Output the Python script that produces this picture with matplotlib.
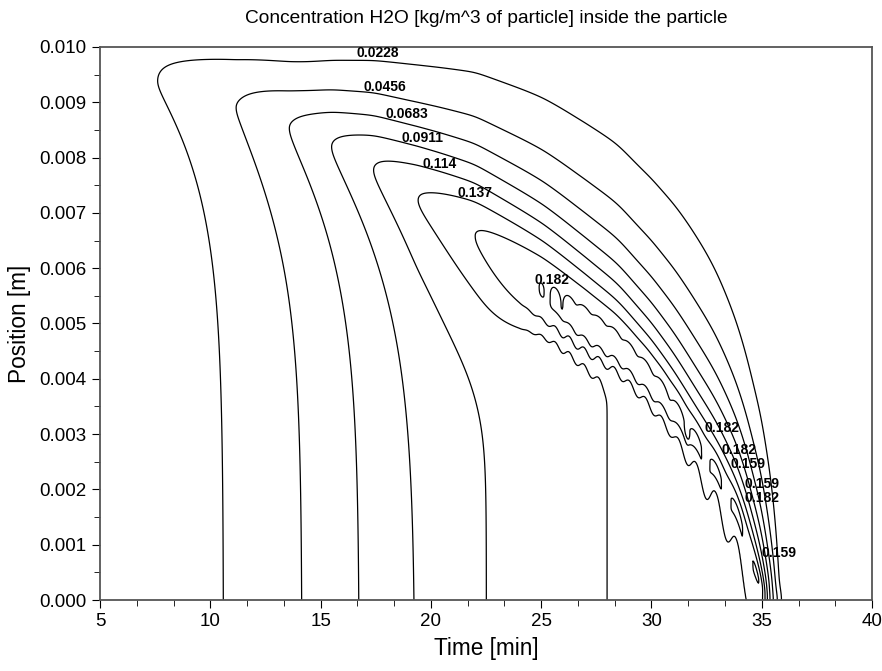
import numpy as np
import matplotlib.pyplot as plt
from matplotlib.ticker import MultipleLocator, FormatStrFormatter

plt.rcParams['font.family'] = ['Liberation Sans', 'DejaVu Sans']

# contour levels of the H2O concentration [kg/m^3]
levels = [0.0228, 0.0456, 0.0683, 0.0911, 0.114, 0.137, 0.159, 0.182]

# concentration in the particle core (r = 0) against time [min]
core_t = [7.0, 10.6, 14.2, 16.76, 19.25, 22.45, 27.97, 34.1]
core_c = [0.0, 0.0228, 0.0456, 0.0683, 0.0911, 0.114, 0.137, 0.159]

# peak of the moisture band behind the drying front: time, position, value
ridge_t = [4.5, 7.6, 11.2, 13.6, 15.5, 17.4, 19.4, 22.0, 25.1, 27.0, 28.5,
           30.0, 31.0, 32.0, 33.0, 33.9, 34.5, 35.0, 35.05, 35.78, 35.95]
ridge_r = [0.0096, 0.0094, 0.0089, 0.00853, 0.0082, 0.00778, 0.00723, 0.0066,
           0.0056, 0.0050, 0.0046, 0.0040, 0.0035, 0.0029, 0.0023, 0.0016,
           0.0009, 0.0, 0.0, 0.0, 0.0]
ridge_c = [0.0, 0.0228, 0.0456, 0.0683, 0.0911, 0.114, 0.137, 0.159, 0.182,
           0.190, 0.190, 0.190, 0.187, 0.184, 0.183, 0.183, 0.183, 0.180,
           0.159, 0.0228, 0.0]

# band shape: outer flank (towards the surface) and inner flank (towards core)
outer_t = [5.0, 14.0, 20.0, 25.0, 27.65, 30.0, 32.2, 33.7, 34.55, 36.0]
outer_a = [0.0008, 0.0008, 0.0012, 0.0009, 0.0005, 0.0002, 0.0001, 0.0001,
           0.0001, 0.0001]
outer_w = [0.0006, 0.0006, 0.0009, 0.0013, 0.0015, 0.0016, 0.00176, 0.00163,
           0.00148, 0.00143]
inner_t = [5.0, 20.0, 22.5, 25.0, 28.0, 36.0]
inner_w = [0.0016, 0.0015, 0.0012, 0.0005, 0.00035, 0.0003]
inner_q = [1.0, 1.0, 1.3, 2.0, 2.0, 2.0]
inner_a = 0.0002

radius = 0.010        # particle radius [m]
skin = 0.00008        # surface layer thickness [m]

# numerical oscillation of the band: period [min], peak swing, inner-flank shift [m]
ripple_t = [24.0, 26.0, 31.0, 33.0, 36.0]
ripple_period = [0.65, 0.65, 0.75, 0.95, 1.0]
ripple_peak = [0.0, 0.004, 0.005, 0.008, 0.008]
ripple_shift = [0.0, 0.00006, 0.00008, 0.00025, 0.00025]
ripple_crest = 33.87  # time of one island crest
ripple_width = 0.00025

# label centres for each level
label_pos = {
    0.0228: [(17.6, 0.0099)],
    0.0456: [(17.9, 0.00928)],
    0.0683: [(18.9, 0.00879)],
    0.0911: [(19.6, 0.00835)],
    0.114: [(20.4, 0.00788)],
    0.137: [(22.0, 0.00736)],
    0.159: [(34.37, 0.00246), (35.0, 0.00209), (35.8, 0.00085)],
    0.182: [(25.5, 0.00579), (33.2, 0.00311), (33.95, 0.00272), (35.0, 0.00185)],
}


def smooth(y, sigma):
    """Gaussian smoothing of a 1-D series, sigma in samples."""
    k = np.arange(-int(4 * sigma), int(4 * sigma) + 1)
    g = np.exp(-0.5 * (k / sigma) ** 2)
    g /= g.sum()
    return np.convolve(np.pad(y, len(k) // 2, mode='edge'), g, mode='valid')


t = np.linspace(5, 40, 1000)
r = np.linspace(0, radius, 700)
dt = t[1] - t[0]
sig = 0.3 / dt

rp = smooth(np.interp(t, ridge_t, ridge_r), sig)
peak = smooth(np.interp(t, ridge_t, ridge_c), sig * 0.6)
core = smooth(np.interp(t, core_t, core_c), sig)
a_o = smooth(np.interp(t, outer_t, outer_a), sig * 2.5)
w_o = smooth(np.interp(t, outer_t, outer_w), sig * 2.5)
w_i = smooth(np.interp(t, inner_t, inner_w), sig * 2)
q_i = smooth(np.interp(t, inner_t, inner_q), sig * 2)

phase = 2 * np.pi * np.cumsum(dt / np.interp(t, ripple_t, ripple_period))
phase += np.pi / 2 - np.interp(ripple_crest, t, phase)
osc = np.sin(phase)
swing = np.interp(t, ripple_t, ripple_peak) * osc
shift = np.interp(t, ripple_t, ripple_shift) * osc

T, R = np.meshgrid(t, r)
RP, P, B = rp[None, :], peak[None, :], core[None, :]

# outer flank
s = np.clip(R - RP, 0, None)
ao, wo = a_o[None, :], w_o[None, :]
c_out = P * np.exp(-(np.sqrt(s ** 2 + ao ** 2) - ao) / wo)

# inner flank, wobbling with the oscillation
d = np.clip(RP - R, 0, None)
d = d + shift[None, :] * (1 - np.exp(-d / 0.0001))
d = np.clip(d, 0, None)
x = (np.sqrt(d ** 2 + inner_a ** 2) - inner_a) / w_i[None, :]
c_in = B + (P - B) * np.exp(-x ** q_i[None, :])

conc = np.where(R <= RP, c_in, c_out)
conc += swing[None, :] * np.exp(-((R - RP) / ripple_width) ** 2)
conc *= 1 - np.exp(-(radius - R) / skin)

fig = plt.figure(figsize=(8.82, 6.71), dpi=100)
ax = fig.add_axes([0.1134, 0.1058, 0.8753, 0.8242])

cs = ax.contour(T, R, conc, levels=levels, colors='black', linewidths=0.9)

for lev, pos in label_pos.items():
    for x0, y0 in pos:
        ax.text(x0, y0, f"{lev:g}", fontsize=10, fontweight='bold',
                ha='center', va='center')

ax.set_xlim(5, 40)
ax.set_ylim(0, 0.010)
ax.xaxis.set_major_locator(MultipleLocator(5))
ax.xaxis.set_minor_locator(MultipleLocator(5 / 3))
ax.yaxis.set_major_locator(MultipleLocator(0.001))
ax.yaxis.set_minor_locator(MultipleLocator(0.0005))
ax.yaxis.set_major_formatter(FormatStrFormatter('%.3f'))
ax.tick_params(which='major', direction='out', length=6, labelsize=13.5,
               top=False, right=False)
ax.tick_params(which='minor', direction='out', length=4, top=False, right=False)
for sp in ax.spines.values():
    sp.set_color('#555555')
    sp.set_linewidth(1.3)

ax.set_xlabel('Time [min]', fontsize=16.3, labelpad=5)
ax.set_ylabel('Position [m]', fontsize=16.3, labelpad=6)
ax.set_title('Concentration H2O [kg/m^3 of particle] inside the particle',
             fontsize=13.8, pad=17)

fig.savefig('out.png', dpi=100)
